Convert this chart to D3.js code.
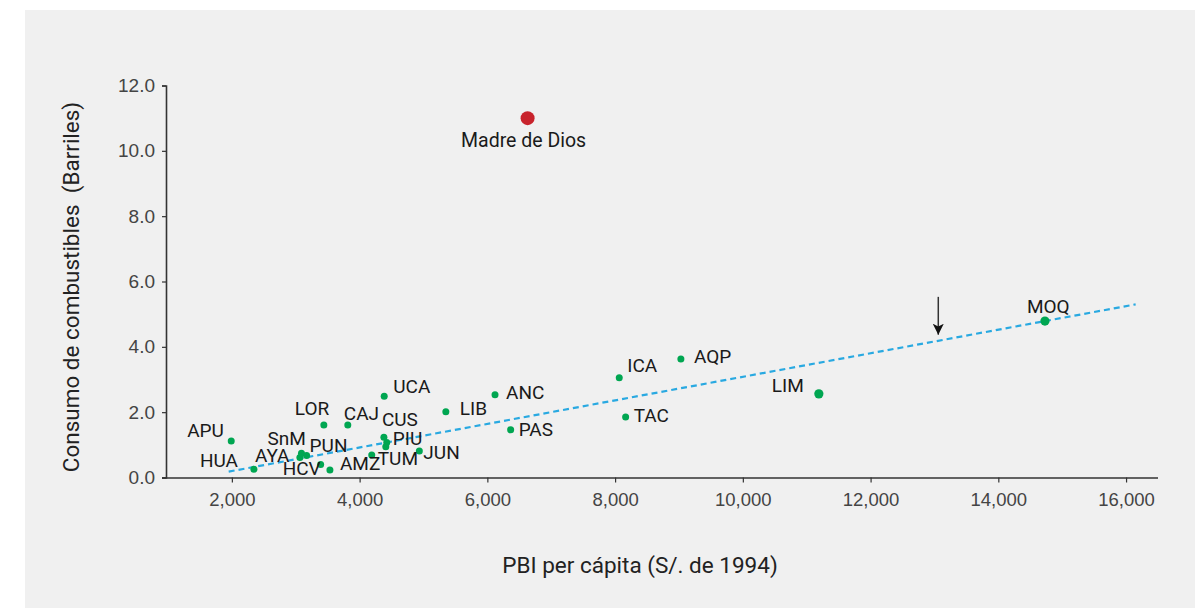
<!DOCTYPE html>
<html>
<head>
<meta charset="utf-8">
<script src="https://cdn.jsdelivr.net/npm/d3@7/dist/d3.min.js"></script>
<style>
  html, body { margin: 0; padding: 0; background: #ffffff; }
  svg { display: block; font-family: Roboto, "Noto Sans", sans-serif; }
</style>
</head>
<body>
<svg id="chart" width="1195" height="608"></svg>
<script>
// Regiones: PBI per cápita (S/. de 1994) vs consumo de combustibles (barriles)
const regions = ["APU","HUA","AYA","SnM","PUN","HCV","AMZ","LOR","CAJ","UCA","CUS","PIU","LAM","TUM","JUN","LIB","ANC","PAS","ICA","AQP","TAC","LIM","MOQ"];
const labels  = ["APU","HUA","AYA","SnM","PUN","HCV","AMZ","LOR","CAJ","UCA","CUS","PIU","","TUM","JUN","LIB","ANC","PAS","ICA","AQP","TAC","LIM","MOQ"];
const pbi     = [1990, 2345, 3065, 3090, 3170, 3390, 3535, 3440, 3815, 4385, 4380, 4425, 4410, 4190, 4935, 5350, 6120, 6365, 8065, 9030, 8165, 11190, 14730];
const consumo = [1.12, 0.25, 0.61, 0.74, 0.67, 0.40, 0.23, 1.61, 1.61, 2.49, 1.23, 1.07, 0.94, 0.69, 0.81, 2.01, 2.53, 1.46, 3.05, 3.63, 1.85, 2.56, 4.79];
const large   = ["LIM","MOQ"];

// Valor atípico
const outlierName = "Madre de Dios";
const outlierPbi = 6630;
const outlierConsumo = 11.0;

// Recta de tendencia
const trendPbi = [1950, 16150];
const trendConsumo = [0.18, 5.30];

// Flecha
const arrowPbi = 13060;
const arrowConsumo = [5.53, 4.31];

// Ejes
const xTicks = [2000, 4000, 6000, 8000, 10000, 12000, 14000, 16000];
const yTicks = [0, 2, 4, 6, 8, 10, 12];
const xTitle = "PBI per cápita (S/. de 1994)";
const yTitle = "Consumo de combustibles  (Barriles)";

const svg = d3.select("#chart");

// panel de fondo
svg.append("rect")
  .attr("x", 25).attr("y", 10)
  .attr("width", 1170).attr("height", 598)
  .attr("fill", "#f0f0f0");

const x = d3.scaleLinear().domain([1000, 16500]).range([168, 1158]);
const y = d3.scaleLinear().domain([0, 12]).range([477.5, 85.5]);

// eje X
const gx = svg.append("g")
  .attr("transform", `translate(0,${y(0)})`)
  .call(d3.axisBottom(x).tickValues(xTicks).tickFormat(d3.format(",")).tickSize(5).tickSizeOuter(0).tickPadding(10));
gx.select(".domain").attr("stroke", "#333").attr("stroke-width", 1.6)
  .attr("d", `M162,0.5H${x(16500)}`);
gx.selectAll(".tick line").attr("stroke", "#333").attr("stroke-width", 1.2);
gx.selectAll(".tick text").attr("fill", "#444").attr("font-size", 18.5);

// eje Y
const gy = svg.append("g")
  .attr("transform", `translate(166,0)`)
  .call(d3.axisLeft(y).tickValues(yTicks).tickFormat(d3.format(".1f")).tickSize(4).tickSizeOuter(4).tickPadding(7));
gy.select(".domain").attr("stroke", "#333").attr("stroke-width", 1.6);
gy.selectAll(".tick line").attr("stroke", "#333").attr("stroke-width", 1.2);
gy.selectAll(".tick text").attr("fill", "#444").attr("font-size", 19);

// títulos de ejes
svg.append("text")
  .attr("x", 640).attr("y", 573)
  .attr("text-anchor", "middle")
  .attr("font-size", 22.5).attr("fill", "#222")
  .text(xTitle);
svg.append("text")
  .attr("transform", "translate(79,287) rotate(-90)")
  .attr("text-anchor", "middle")
  .style("white-space", "pre")
  .attr("font-size", 22.5).attr("fill", "#222")
  .text(yTitle);

// recta de tendencia
svg.append("line")
  .attr("x1", x(trendPbi[0])).attr("y1", y(trendConsumo[0]))
  .attr("x2", x(trendPbi[1])).attr("y2", y(trendConsumo[1]))
  .attr("stroke", "#29a9e1").attr("stroke-width", 2.2)
  .attr("stroke-dasharray", "6,4");

// flecha
const defs = svg.append("defs");
defs.append("marker")
  .attr("id", "head").attr("viewBox", "0 0 10 10")
  .attr("refX", 10).attr("refY", 5)
  .attr("markerWidth", 11).attr("markerHeight", 11)
  .attr("markerUnits", "userSpaceOnUse")
  .attr("orient", "auto")
  .append("path").attr("d", "M0,0 L10,5 L0,10 L2.5,5 Z").attr("fill", "#111");
svg.append("line")
  .attr("x1", x(arrowPbi)).attr("y1", y(arrowConsumo[0]))
  .attr("x2", x(arrowPbi)).attr("y2", y(arrowConsumo[1]) - 2)
  .attr("stroke", "#333").attr("stroke-width", 1.5)
  .attr("marker-end", "url(#head)");

// posición de cada etiqueta respecto a su punto
const labelOffset = {
  APU: [-44, -4], HUA: [-54, -2], AYA: [-45, 4], SnM: [-34, -8], PUN: [3, -4],
  HCV: [-38, 11], AMZ: [10, 0], LOR: [-29, -10], CAJ: [-4, -5], UCA: [9, -3],
  CUS: [-2, -11], PIU: [6, 2], LAM: [0, 0], TUM: [6, 10], JUN: [4, 8],
  LIB: [14, 3], ANC: [11, 4], PAS: [8, 6], ICA: [8, -6], AQP: [13, 4],
  TAC: [8, 5], LIM: [-47, -2], MOQ: [-18, -8]
};

const pts = regions.map((r, i) => ({ code: r, label: labels[i], px: pbi[i], cy: consumo[i] }));

svg.append("g").selectAll("circle")
  .data(pts).join("circle")
  .attr("cx", d => x(d.px)).attr("cy", d => y(d.cy))
  .attr("r", d => large.includes(d.code) ? 4.6 : 3.5)
  .attr("fill", "#00a651");

svg.append("g").selectAll("text")
  .data(pts.filter(d => d.label)).join("text")
  .attr("x", d => x(d.px) + labelOffset[d.code][0])
  .attr("y", d => y(d.cy) + labelOffset[d.code][1])
  .attr("font-size", 19).attr("fill", "#1a1a1a")
  .text(d => d.label);

// Madre de Dios
svg.append("circle")
  .attr("cx", x(outlierPbi)).attr("cy", y(outlierConsumo))
  .attr("r", 7).attr("fill", "#c8232c");
svg.append("text")
  .attr("x", x(outlierPbi) - 4).attr("y", y(outlierConsumo) + 29)
  .attr("text-anchor", "middle")
  .attr("font-size", 19.5).attr("fill", "#1a1a1a")
  .text(outlierName);
</script>
</body>
</html>
